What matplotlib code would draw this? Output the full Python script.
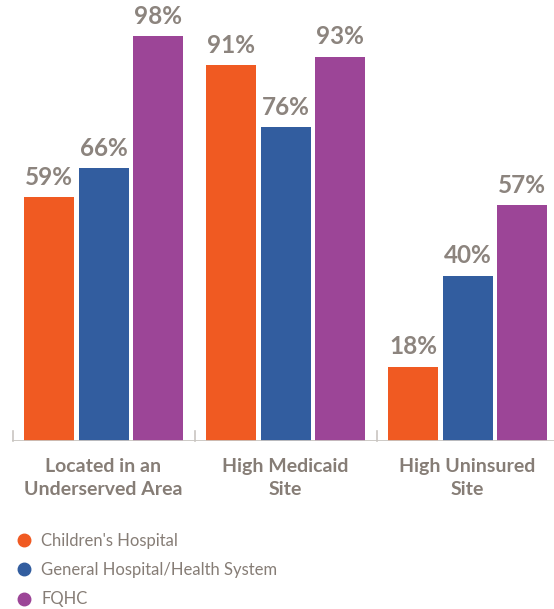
import matplotlib.pyplot as plt
from matplotlib.lines import Line2D
import numpy as np

# Categories and series
categories = ['Located in an\nUnderserved Area', 'High Medicaid\nSite', 'High Uninsured\nSite']
series = ["Children's Hospital", 'General Hospital/Health System', 'FQHC']
childrens = [59, 91, 18]
general = [66, 76, 40]
fqhc = [98, 93, 57]
colors = ['#F05A22', '#325D9F', '#9C4597']

text_gray = '#867D76'
label_gray = '#8C847E'
axis_gray = '#C9C5C1'

plt.rcParams['font.family'] = ['Lato', 'DejaVu Sans']

W, H = 554, 609
fig = plt.figure(figsize=(W / 100, H / 100), dpi=100)
# axes spans from x=12px to right edge, baseline at y=441px
ax = fig.add_axes([12 / W, (H - 441) / H, 542 / W, 441 / H])

x = np.arange(len(categories))
width = 50 / 182
step = 54.5 / 182
values = [childrens, general, fqhc]

for i, (vals, col) in enumerate(zip(values, colors)):
    pos = x + (i - 1) * step
    bars = ax.bar(pos, vals, width=width, color=col, zorder=2)
    for b, v in zip(bars, vals):
        ax.annotate(f'{v}%', (b.get_x() + b.get_width() / 2, v),
                    xytext=(0, 6), textcoords='offset points',
                    ha='center', va='bottom', fontsize=17.5,
                    fontweight='bold', color=label_gray)

ax.set_xlim(-0.503, -0.503 + 542 / 182)
ax.set_ylim(0, 441 / 4.133)

# baseline and group separators
ax.axhline(0, color=axis_gray, lw=2, zorder=3)
for sep in [-0.5, 0.5, 1.5]:
    ax.plot([sep, sep], [0, 2.4], color=axis_gray, lw=1.2, zorder=3, clip_on=False)

for s in ax.spines.values():
    s.set_visible(False)
ax.set_yticks([])
ax.set_xticks(x)
ax.set_xticklabels(categories, fontsize=14, fontweight='bold', color=text_gray,
                   linespacing=1.45)
ax.tick_params(axis='x', length=0, pad=12)

handles = [Line2D([], [], marker='o', linestyle='', markersize=9,
                  markerfacecolor=c, markeredgecolor=c) for c in colors]
fig.legend(handles, series, loc='upper left', bbox_to_anchor=(7 / W, 1 - 526 / H),
           frameon=False, fontsize=12, labelcolor=text_gray,
           handletextpad=0.45, labelspacing=0.8, handlelength=1.2, borderaxespad=0)

fig.savefig('out.png', dpi=100)
